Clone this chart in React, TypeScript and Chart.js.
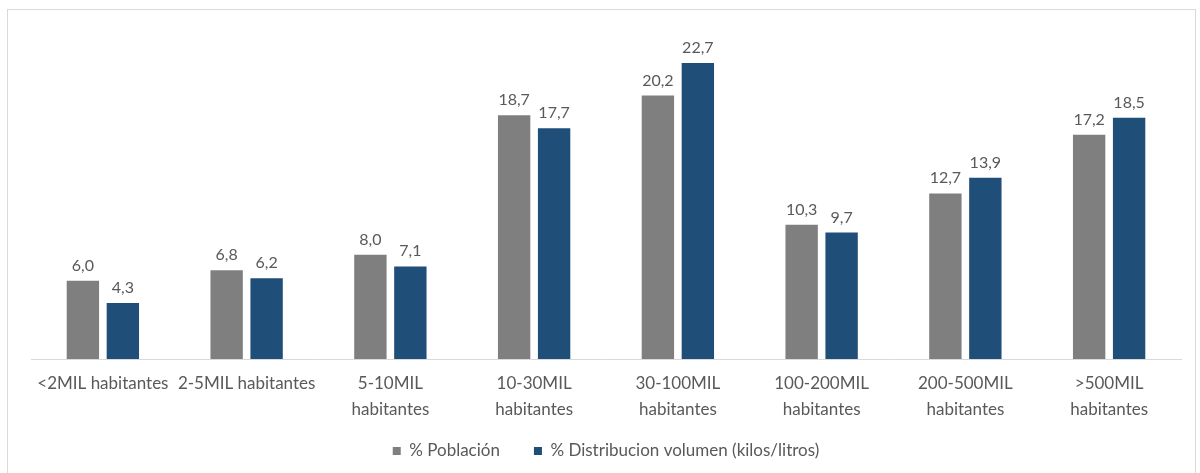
import React, { useEffect, useRef } from "react";
import { Chart, registerables } from "chart.js";

Chart.register(...registerables);

const categories: string[][] = [
  ["<2MIL habitantes"],
  ["2-5MIL habitantes"],
  ["5-10MIL", "habitantes"],
  ["10-30MIL", "habitantes"],
  ["30-100MIL", "habitantes"],
  ["100-200MIL", "habitantes"],
  ["200-500MIL", "habitantes"],
  [">500MIL", "habitantes"],
];
const poblacion: number[] = [6.0, 6.8, 8.0, 18.7, 20.2, 10.3, 12.7, 17.2];
const distribucion: number[] = [4.3, 6.2, 7.1, 17.7, 22.7, 9.7, 13.9, 18.5];
const seriesNames: string[] = ["% Población", "% Distribucion volumen (kilos/litros)"];

const FONT = "Lato, 'Open Sans', sans-serif";
const TEXT = "#595959";

const dataLabels = {
  id: "dataLabels",
  afterDatasetsDraw(chart: any) {
    const ctx = chart.ctx;
    ctx.save();
    ctx.font = `16px ${FONT}`;
    ctx.fillStyle = TEXT;
    ctx.textAlign = "center";
    ctx.textBaseline = "alphabetic";
    chart.data.datasets.forEach((ds: any, di: number) => {
      const meta = chart.getDatasetMeta(di);
      meta.data.forEach((el: any, i: number) => {
        const v = ds.data[i] as number;
        ctx.fillText(v.toFixed(1).replace(".", ","), el.x, el.y - 10);
      });
    });
    ctx.restore();
  },
};

const legendTweak = {
  id: "legendTweak",
  beforeInit(chart: any) {
    const legend = chart.legend;
    if (!legend) return;
    const fit = legend.fit;
    legend.fit = function () {
      fit.call(this);
      this.height = 52;
    };
    const draw = legend.draw;
    legend.draw = function () {
      const ctx = this.ctx;
      ctx.save();
      ctx.translate(0, -12.5);
      draw.call(this);
      ctx.restore();
    };
  },
};

export default function App() {
  const ref = useRef<HTMLCanvasElement>(null);
  useEffect(() => {
    document.body.style.margin = "0";
    const chart = new Chart(ref.current!, {
      type: "bar",
      data: {
        labels: categories,
        datasets: [
          {
            label: seriesNames[0],
            data: poblacion,
            backgroundColor: "#7f7f7f",
            categoryPercentage: 0.556,
            barPercentage: 0.81,
          },
          {
            label: seriesNames[1],
            data: distribucion,
            backgroundColor: "#1f4e79",
            categoryPercentage: 0.556,
            barPercentage: 0.81,
          },
        ],
      },
      options: {
        responsive: false,
        animation: false,
        layout: { padding: { left: 31, right: 19, top: 33, bottom: 0 } },
        plugins: {
          legend: {
            position: "bottom",
            labels: {
              boxWidth: 8,
              boxHeight: 8,
              padding: 34,
              color: TEXT,
              font: { family: FONT, size: 17 },
            },
          },
          tooltip: { enabled: false },
        },
        scales: {
          x: {
            grid: { display: false },
            border: { color: "#d9d9d9", width: 1 },
            afterFit: (scale: any) => {
              scale.height = 62;
            },
            ticks: {
              color: TEXT,
              font: { family: FONT, size: 17, lineHeight: 1.5 },
              maxRotation: 0,
              minRotation: 0,
              autoSkip: false,
              padding: 4,
            },
          },
          y: {
            display: false,
            min: 0,
            max: 25,
          },
        },
      },
      plugins: [dataLabels, legendTweak],
    });
    return () => chart.destroy();
  }, []);
  return (
    <div style={{ position: "relative", width: 1200, height: 473, background: "#fff" }}>
      <div
        style={{
          position: "absolute",
          left: 7,
          top: 9,
          width: 1189,
          height: 470,
          border: "1px solid #d9d9d9",
          boxSizing: "border-box",
        }}
      />
      <canvas ref={ref} width={1200} height={473} style={{ position: "absolute", left: 0, top: 0 }} />
    </div>
  );
}
